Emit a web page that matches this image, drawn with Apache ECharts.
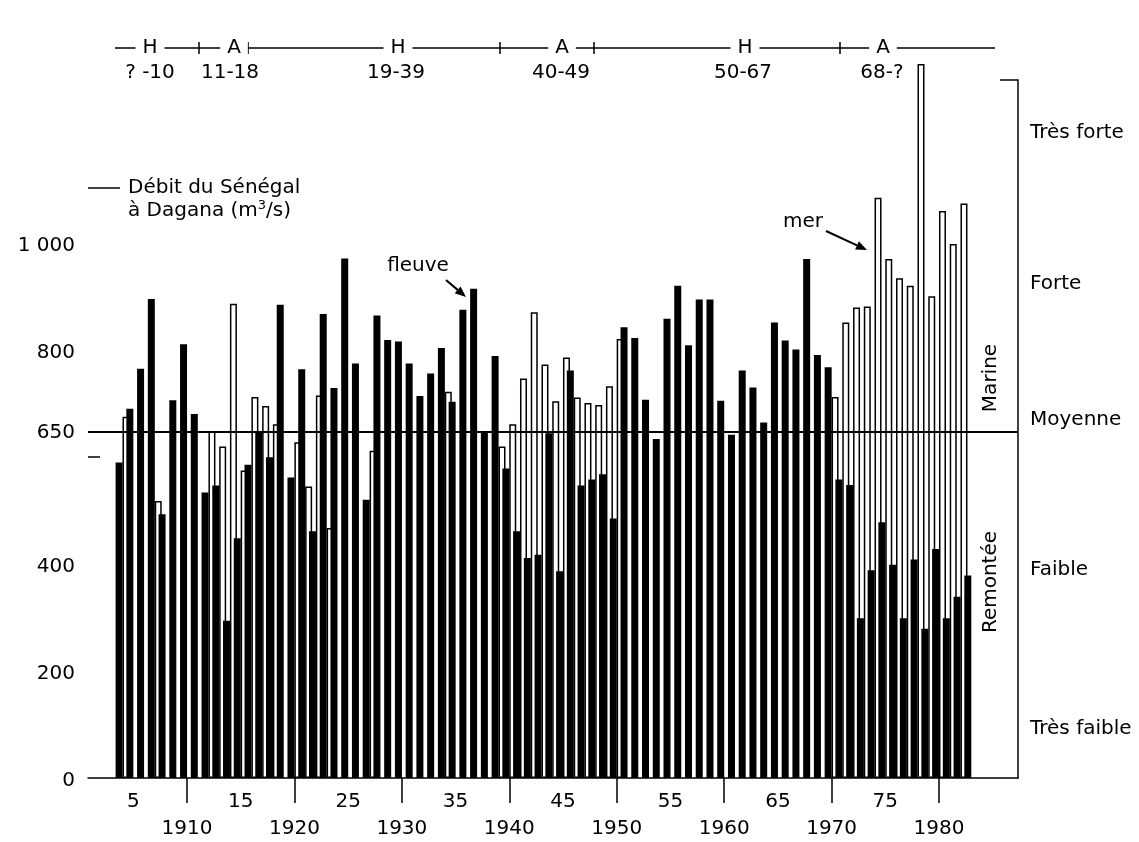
<!DOCTYPE html>
<html>
<head>
<meta charset="utf-8">
<title>Débit du Sénégal à Dagana</title>
<script src="https://cdn.jsdelivr.net/npm/echarts@6/dist/echarts.min.js"></script>
<style>
  html, body { margin: 0; padding: 0; background: #fff; }
  #chart { width: 1139px; height: 842px; }
</style>
</head>
<body>
<div id="chart"></div>
<script>
// années représentées
var years = [
  1903, 1904, 1905, 1906, 1907, 1908, 1909, 1910, 1911, 1912,
  1913, 1914, 1915, 1916, 1917, 1918, 1919, 1920, 1921, 1922,
  1923, 1924, 1925, 1926, 1927, 1928, 1929, 1930, 1931, 1932,
  1933, 1934, 1935, 1936, 1937, 1938, 1939, 1940, 1941, 1942,
  1943, 1944, 1945, 1946, 1947, 1948, 1949, 1950, 1951, 1952,
  1953, 1954, 1955, 1956, 1957, 1958, 1959, 1960, 1961, 1962,
  1963, 1964, 1965, 1966, 1967, 1968, 1969, 1970, 1971, 1972,
  1973, 1974, 1975, 1976, 1977, 1978, 1979, 1980, 1981, 1982
]
// débit du fleuve (barres noires)
var fleuve = [
  592, 693, 768, 899, 495, 709, 814, 683, 536, 549,
  295, 450, 588, 650, 602, 888, 564, 767, 463, 871,
  732, 975, 778, 522, 868, 822, 819, 778, 717, 759,
  807, 706, 879, 918, 650, 792, 581, 463, 413, 419,
  647, 388, 765, 549, 560, 570, 487, 846, 826, 710,
  636, 862, 924, 812, 898, 898, 708, 644, 765, 733,
  667, 855, 821, 804, 974, 794, 771, 560, 550, 300,
  390, 480, 400, 300, 410, 280, 430, 300, 340, 380
]
// remontée marine (barres blanches), null quand elle n'apparaît pas
var mer = [
  null, 678, null, null, 520, null, null, null, null, 651,
  622, 890, 577, 715, 698, 664, null, 630, 547, 718,
  469, null, null, null, 614, null, null, null, null, null,
  null, 725, null, null, null, null, 622, 664, 750, 874,
  776, 707, 789, 714, 704, 700, 735, 824, null, null,
  null, null, null, null, null, null, null, null, null, null,
  null, null, null, null, null, null, null, 715, 855, 883,
  885, 1089, 974, 938, 924, 1340, 904, 1064, 1002, 1078
]
var debitLabels = [0, 200, 400, 650, 800, 1000]
var decennies = [1910, 1920, 1930, 1940, 1950, 1960, 1970, 1980]
var anneeLabels = [1905, 1910, 1915, 1920, 1925, 1930, 1935, 1940, 1945, 1950, 1955, 1960, 1965, 1970, 1975, 1980]
var niveaux = ['Très faible', 'Faible', 'Moyenne', 'Forte', 'Très forte']
var niveauxVal = [92, 391, 672, 927, 1211]
var phases = ['H', 'A', 'H', 'A', 'H', 'A']
var periodes = ['? -10', '11-18', '19-39', '40-49', '50-67', '68-?']

var FONT = 'DejaVu Sans'
var FS = 20
var chart = echarts.init(document.getElementById('chart'))

function txt (s, x, y, extra) {
  var el = {
    type: 'text', x: x, y: y,
    style: { text: s, font: FS + 'px "' + FONT + '"', fill: '#000', align: 'center', verticalAlign: 'middle' }
  }
  return Object.assign(el, extra || {})
}

function arrow (x1, y1, x2, y2) {
  var dx = x2 - x1
  var dy = y2 - y1
  var l = Math.sqrt(dx * dx + dy * dy)
  var ux = dx / l
  var uy = dy / l
  var bx = x2 - ux * 11
  var by = y2 - uy * 11
  return [{
    type: 'line',
    shape: { x1: x1, y1: y1, x2: bx, y2: by },
    style: { stroke: '#000', lineWidth: 2 }
  }, {
    type: 'polygon',
    shape: { points: [[x2, y2], [bx - uy * 4.5, by + ux * 4.5], [bx + uy * 4.5, by - ux * 4.5]] },
    style: { fill: '#000' }
  }]
}

// bandeau H / A en haut
var phaseX = [150, 234, 398, 562, 745, 883]
var periodeX = [150, 230, 396, 561, 743, 882]
var bornesX = [199, 248, 500, 594, 840]
var graphics = [{
  type: 'line',
  shape: { x1: 115, y1: 48, x2: 995, y2: 48 },
  style: { stroke: '#000', lineWidth: 1.5 }
}]
bornesX.forEach(function (x) {
  graphics.push({
    type: 'line',
    shape: { x1: x, y1: 42, x2: x, y2: 54 },
    style: { stroke: '#000', lineWidth: 1.5 }
  })
})
phases.forEach(function (p, i) {
  var el = txt(p, phaseX[i], 48)
  el.style.backgroundColor = '#fff'
  el.style.padding = [0, 7]
  graphics.push(el)
})
periodes.forEach(function (p, i) {
  graphics.push(txt(p, periodeX[i], 73))
})
// titre de l'axe des débits
graphics.push({
  type: 'text',
  x: 128,
  y: 176,
  style: {
    rich: {
      t: { fontFamily: FONT, fontSize: FS, lineHeight: 23 },
      s: { fontFamily: FONT, fontSize: 13, lineHeight: 23, verticalAlign: 'top', padding: [0, 0, 8, 0] }
    },
    text: '{t|Débit du Sénégal}\n{t|à Dagana (m}{s|3}{t|/s)}'
  }
})
graphics.push({
  type: 'line',
  shape: { x1: 88, y1: 188, x2: 120, y2: 188 },
  style: { stroke: '#000', lineWidth: 1.5 }
})
// textes verticaux de l'échelle de remontée
graphics.push(txt('Marine', 991, 378, { rotation: Math.PI / 2 }))
graphics.push(txt('Remontée', 991, 582, { rotation: Math.PI / 2 }))
// annotations
graphics.push(txt('fleuve', 418, 266))
graphics = graphics.concat(arrow(446, 280, 466, 297))
graphics.push(txt('mer', 803, 222))
graphics = graphics.concat(arrow(826, 231, 867, 250))

var merData = []
years.forEach(function (y, i) {
  if (mer[i] !== null) merData.push([y + 0.5, mer[i]])
})

var option = {
  animation: false,
  textStyle: { fontFamily: FONT, color: '#000' },
  grid: [
    { left: 88, right: 121, top: 80, bottom: 61 },
    { left: 88, right: 121, top: 188, bottom: 61 }
  ],
  xAxis: [{
    type: 'value',
    gridIndex: 0,
    min: 1900.785,
    max: 1987.35,
    splitLine: { show: false },
    axisLine: { lineStyle: { color: '#000', width: 1.5 } },
    axisTick: { customValues: decennies, length: 25, lineStyle: { color: '#000', width: 1.5 } },
    axisLabel: {
      customValues: anneeLabels,
      margin: 10,
      fontSize: FS,
      lineHeight: 27,
      color: '#000',
      formatter: function (v) {
        return v % 10 === 0 ? '\n' + v : String(v % 100)
      }
    }
  }, {
    type: 'value', gridIndex: 1, min: 0, max: 1, show: false
  }],
  yAxis: [{
    type: 'value',
    gridIndex: 0,
    position: 'right',
    min: 0,
    max: 1310,
    splitLine: { show: false },
    axisLine: { show: true, lineStyle: { color: '#000', width: 1.5 } },
    axisTick: { show: true, inside: true, customValues: [1310], length: 18, lineStyle: { color: '#000', width: 1.5 } },
    axisLabel: {
      customValues: niveauxVal,
      margin: 12,
      fontSize: FS,
      color: '#000',
      formatter: function (v) {
        return niveaux[niveauxVal.indexOf(v)]
      }
    }
  }, {
    type: 'value',
    gridIndex: 1,
    position: 'left',
    min: 0,
    max: 1108,
    splitLine: { show: false },
    axisLine: { show: false },
    axisTick: { show: true, inside: true, customValues: [605], length: 12, lineStyle: { color: '#000', width: 1.5 } },
    axisLabel: {
      customValues: debitLabels,
      margin: 13,
      fontSize: FS,
      color: '#000',
      formatter: function (v) {
        return v === 1000 ? '1 000' : String(v)
      }
    }
  }],
  series: [{
    name: 'mer',
    type: 'bar',
    xAxisIndex: 0,
    yAxisIndex: 0,
    clip: false,
    barWidth: 7,
    barGap: '-45%',
    itemStyle: { color: '#fff', borderColor: '#000', borderWidth: 1.5 },
    data: merData
  }, {
    name: 'fleuve',
    type: 'bar',
    xAxisIndex: 0,
    yAxisIndex: 0,
    barWidth: 7,
    barGap: '-45%',
    itemStyle: { color: '#000' },
    data: years.map(function (y, i) { return [y + 0.5, fleuve[i]] }),
    markLine: {
      silent: true,
      symbol: 'none',
      label: { show: false },
      lineStyle: { color: '#000', width: 2, type: 'solid' },
      data: [{ yAxis: 650 }]
    }
  }],
  graphic: graphics
}
chart.setOption(option)
</script>
</body>
</html>
